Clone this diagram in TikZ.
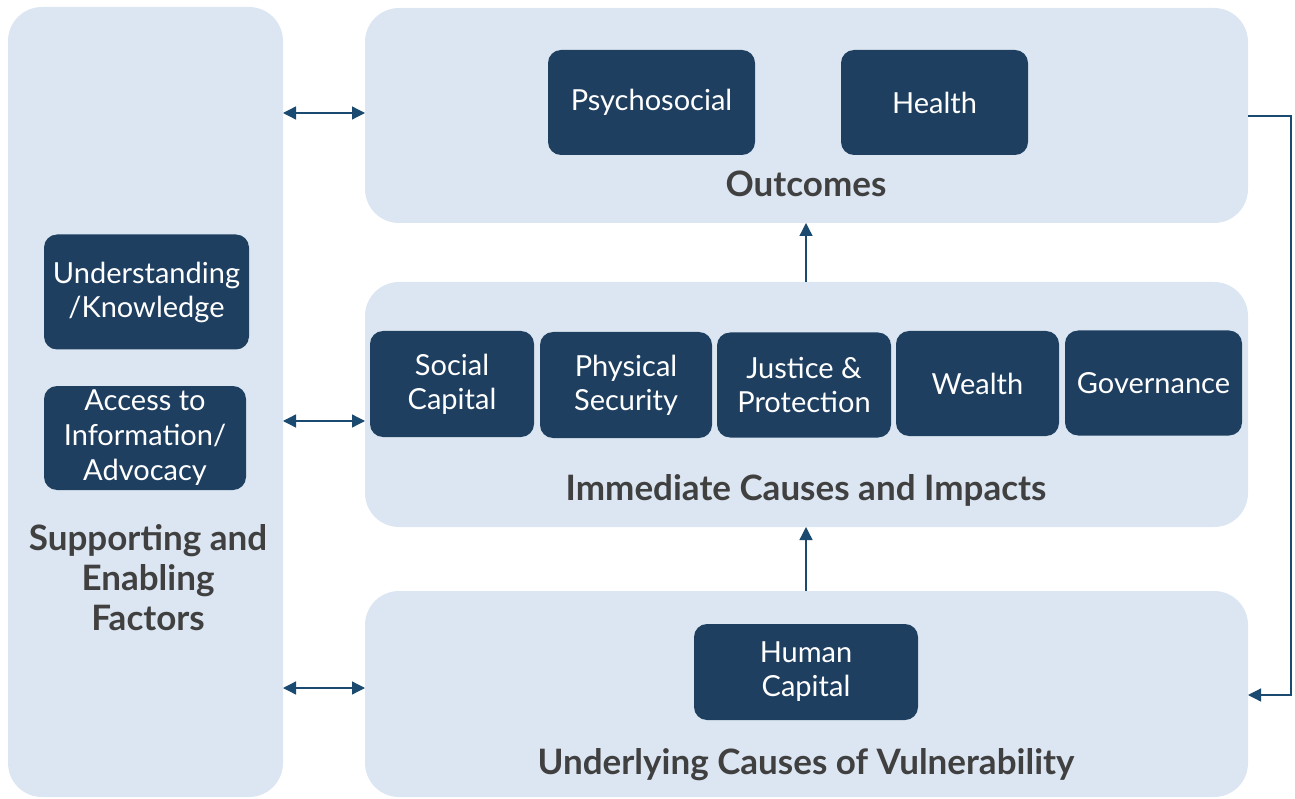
\documentclass[tikz,border=0pt]{standalone}
\usepackage{fontspec}
\setmainfont{Lato}
\usetikzlibrary{arrows.meta}
\definecolor{panel}{HTML}{DCE6F2}
\definecolor{dark}{HTML}{1F3F60}
\definecolor{arr}{HTML}{1A4A70}
\definecolor{lbl}{HTML}{404040}
\tikzset{
  panelbox/.style={fill=panel, draw=none, rounded corners=34pt},
  item/.style={fill=dark, draw=none, rounded corners=13pt, text=white, align=center, font=\fontsize{29}{34}\selectfont, inner sep=0pt},
  title/.style={text=lbl, font=\fontsize{35}{40}\selectfont\bfseries, align=center, inner sep=0pt},
  link/.style={draw=arr, line width=1.3pt, -{Triangle[length=13pt,width=13pt]}},
  dlink/.style={draw=arr, line width=1.3pt, {Triangle[length=13pt,width=13pt]}-{Triangle[length=13pt,width=13pt]}},
}
\begin{document}
\begin{tikzpicture}[x=1pt,y=-1pt]
\useasboundingbox (0,0) rectangle (1295,799);
% panels
\path[panelbox] (8,7) rectangle (283,797);
\path[panelbox] (365,8) rectangle (1248,223);
\path[panelbox] (365,282) rectangle (1248,527);
\path[panelbox] (365,591) rectangle (1248,797);
% panel anchors
\coordinate (leftT) at (283,113);
\coordinate (leftM) at (283,421);
\coordinate (leftB) at (283,688);
\coordinate (topL) at (365,113);
\coordinate (midL) at (365,421);
\coordinate (botL) at (365,688);
\coordinate (topB) at (806,223);
\coordinate (midT) at (806,282);
\coordinate (midB) at (806,527);
\coordinate (botT) at (806,591);
\coordinate (topR) at (1248,116);
\coordinate (botR) at (1248,695);
% items
\node[item, minimum width=207pt, minimum height=105pt] (psy) at (651.5,102.5) {Psychosocial};
\node[item, minimum width=187pt, minimum height=105pt] (hea) at (934.5,102.5) {Health};
\node[title] (out) at (806,184) {Outcomes};
\node[item, minimum width=164pt, minimum height=106pt] (soc) at (452,384) {Social\\Capital};
\node[item, minimum width=172pt, minimum height=106pt] (phy) at (626,385) {Physical\\Security};
\node[item, minimum width=174pt, minimum height=105pt] (jus) at (804,385) {Justice \&\\Protection};
\node[item, minimum width=163pt, minimum height=105pt] (wea) at (977.5,383.5) {Wealth};
\node[item, minimum width=177pt, minimum height=105pt] (gov) at (1153.5,383) {Governance};
\node[title] (imm) at (806,490) {Immediate Causes and Impacts};
\node[item, minimum width=224pt, minimum height=96pt] (hum) at (806,672) {Human\\Capital};
\node[title] (und) at (806,765) {Underlying Causes of Vulnerability};
\node[item, minimum width=205pt, minimum height=115pt] (ukn) at (146.5,292) {Understanding\\/Knowledge};
\node[item, minimum width=202pt, minimum height=104pt, font=\fontsize{29}{35}\selectfont] (acc) at (145,438) {Access to\\Information/\\Advocacy};
\node[title] (sup) at (148,578) {Supporting and\\Enabling\\Factors};
% connectors
\draw[dlink] (leftT) -- (topL);
\draw[dlink] (leftM) -- (midL);
\draw[dlink] (leftB) -- (botL);
\draw[link] (midT) -- (topB);
\draw[link] (botT) -- (midB);
\draw[link] (topR) -- ++(43,0) |- (botR);
\end{tikzpicture}
\end{document}
